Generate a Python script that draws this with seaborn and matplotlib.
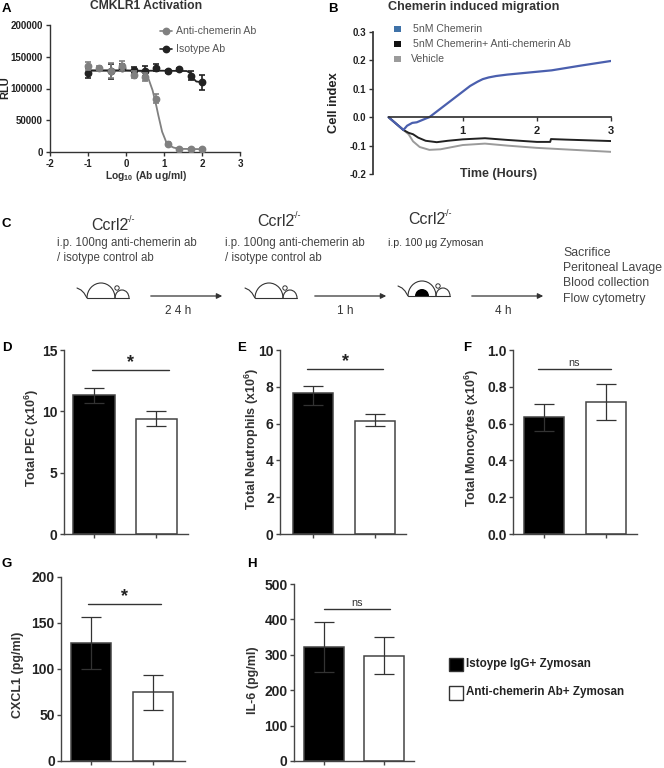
import numpy as np
import pandas as pd
import matplotlib
matplotlib.use('Agg')
import matplotlib.pyplot as plt
from matplotlib.patches import Arc, Circle, Wedge, Rectangle
import seaborn as sns

# panel A
dose_anti = [-1, -0.7, -0.4, -0.1, 0.2, 0.5, 0.8, 1.1, 1.4, 1.7, 2]
rlu_anti = [135000, 132000, 128000, 135000, 122000, 118000, 84000, 13000, 5000, 5000, 4500]
rlu_anti_err = [6000, 3000, 12000, 8000, 6000, 6000, 7000, 2000, 1500, 1500, 1500]
dose_iso = [-1, -0.4, -0.1, 0.2, 0.5, 0.8, 1.1, 1.4, 1.7, 2]
rlu_iso = [124000, 127000, 133000, 129000, 127000, 133000, 127000, 130000, 120000, 110000]
rlu_iso_err = [8000, 12000, 6000, 5000, 8000, 6000, 2000, 2000, 7000, 12000]
fit_anti_x = [-1, 0, 0.4, 0.5, 0.6, 0.7, 0.8, 0.85, 0.95, 1.05, 1.15, 1.25, 1.4, 2]
fit_anti_y = [129000, 129000, 127000, 123000, 114000, 97000, 72000, 58000, 32000, 17000, 10000, 7000, 5000, 4500]
fit_iso_x = [-1, 0, 1, 1.6, 1.7, 1.75, 1.85, 2]
fit_iso_y = [128000, 128000, 128000, 127500, 124000, 117000, 111000, 110000]

# panel B
t_blue = [0, 0.2, 0.25, 0.32, 0.38, 0.5, 0.55, 0.7, 0.9, 1.1, 1.2, 1.27, 1.35, 1.45, 1.6, 2, 2.2, 2.6, 3]
ci_blue = [0, -0.045, -0.03, -0.02, -0.018, -0.005, 0, 0.03, 0.07, 0.11, 0.125, 0.134, 0.14, 0.145, 0.15, 0.16, 0.165, 0.182, 0.198]
t_black = [0, 0.2, 0.27, 0.33, 0.4, 0.5, 0.65, 0.8, 1, 1.3, 1.6, 2, 2.18, 2.19, 2.4, 3]
ci_black = [0, -0.045, -0.055, -0.06, -0.072, -0.083, -0.088, -0.083, -0.078, -0.074, -0.08, -0.087, -0.087, -0.077, -0.079, -0.084]
t_grey = [0, 0.2, 0.27, 0.33, 0.42, 0.55, 0.7, 1, 1.3, 1.6, 2, 2.5, 3]
ci_grey = [0, -0.045, -0.06, -0.085, -0.105, -0.115, -0.113, -0.098, -0.093, -0.1, -0.108, -0.115, -0.122]

# bar panels: means, lower and upper error ends
groups = ['Istoype IgG+ Zymosan', 'Anti-chemerin Ab+ Zymosan']
pec = [11.3, 9.4]
pec_lo = [10.7, 8.8]
pec_hi = [11.9, 10.0]
neut = [7.65, 6.15]
neut_lo = [7.0, 5.85]
neut_hi = [8.02, 6.5]
mono = [0.635, 0.72]
mono_lo = [0.56, 0.62]
mono_hi = [0.705, 0.815]
cxcl = [128, 75]
cxcl_lo = [100, 55]
cxcl_hi = [156, 94]
il6 = [322, 298]
il6_lo = [252, 245]
il6_hi = [392, 350]

W, H = 664, 768
sns.set_theme(style='ticks')
plt.rcParams['font.family'] = ['Liberation Sans', 'DejaVu Sans']
plt.rcParams['mathtext.default'] = 'regular'
plt.rcParams['axes.unicode_minus'] = False

fig = plt.figure(figsize=(W / 100, H / 100), dpi=100)
# overlay in pixel coordinates for annotations, kept above the plot axes
bg = fig.add_axes([0, 0, 1, 1], zorder=10)
bg.set_xlim(0, W)
bg.set_ylim(H, 0)
bg.axis('off')


def px_axes(left, top, right, bottom):
    return fig.add_axes([left / W, 1 - bottom / H, (right - left) / W, (bottom - top) / H])


DARK = '#333333'


def label(x, y, s, **kw):
    kw.setdefault('color', '#222222')
    kw.setdefault('fontsize', 9)
    kw.setdefault('va', 'center')
    bg.text(x, y, s, **kw)


for s, x, y in [('A', 2, 9), ('B', 328, 9), ('C', 2, 224), ('D', 2, 348),
                ('E', 237, 348), ('F', 463, 348), ('G', 1, 564), ('H', 247, 564)]:
    label(x, y, s, fontsize=9.5, fontweight='bold', color='black')

# A
ax = px_axes(50, 25, 240, 152)
sns.lineplot(x=fit_anti_x, y=fit_anti_y, ax=ax, color='#808080', lw=1.3)
sns.lineplot(x=fit_iso_x, y=fit_iso_y, ax=ax, color='#222222', lw=1.3)
ax.errorbar(dose_anti, rlu_anti, yerr=rlu_anti_err, fmt='o', ms=4.6, color='#808080',
            elinewidth=1.2, capsize=2.5, capthick=1.2, zorder=4)
ax.errorbar(dose_iso, rlu_iso, yerr=rlu_iso_err, fmt='o', ms=4.6, color='#222222',
            elinewidth=1.2, capsize=2.5, capthick=1.2, zorder=3)
ax.set_xlim(-2, 3)
ax.set_ylim(0, 200000)
ax.set_yticks([0, 50000, 100000, 150000, 200000])
ax.set_xticks([-2, -1, 0, 1, 2, 3])
ax.tick_params(labelsize=7, length=3, width=1, color=DARK, labelcolor='#222222', pad=2)
for t in ax.get_xticklabels() + ax.get_yticklabels():
    t.set_fontweight('bold')
sns.despine(ax=ax)
for sp in ['left', 'bottom']:
    ax.spines[sp].set_linewidth(1)
    ax.spines[sp].set_color(DARK)
label(146, 6, 'CMKLR1 Activation', fontsize=8.7, fontweight='bold', ha='center', color='#333333')
label(5, 88, 'RLU', fontsize=8, fontweight='bold', rotation=90, ha='center')
label(146, 176, 'Log$_{10}$ (Ab ug/ml)', fontsize=7.4, fontweight='bold', ha='center', color='#333333')
for y, c, s in [(31, '#808080', 'Anti-chemerin Ab'), (48.5, '#222222', 'Isotype Ab')]:
    bg.plot([160, 172], [y, y], color=c, lw=1.2)
    bg.plot([166], [y], 'o', ms=4.6, color=c)
    label(176, y, s, fontsize=7.6, color='#555555')

# B
ax = px_axes(373, 32, 611, 174)
sns.lineplot(x=t_grey, y=ci_grey, ax=ax, color='#9b9b9b', lw=1.4)
sns.lineplot(x=t_black, y=ci_black, ax=ax, color='#222222', lw=1.4)
sns.lineplot(x=t_blue, y=ci_blue, ax=ax, color='#4a5fae', lw=1.6)
ax.set_xlim(-0.21, 3)
ax.set_ylim(-0.2, 0.3)
ax.set_yticks([-0.2, -0.1, 0, 0.1, 0.2, 0.3])
ax.set_yticklabels(['-0.2', '-0.1', '0.0', '0.1', '0.2', '0.3'])
ax.set_xticks([1, 2, 3])
ax.spines['bottom'].set_position(('data', 0))
ax.spines['bottom'].set_bounds(0, 3)
ax.spines['bottom'].set_color(DARK)
ax.spines['left'].set_color(DARK)
sns.despine(ax=ax)
ax.tick_params(labelsize=7, length=3, width=1, color=DARK, labelcolor='#222222', pad=2)
ax.tick_params(axis='x', labelsize=8, pad=3)
for t in ax.get_xticklabels() + ax.get_yticklabels():
    t.set_fontweight('bold')
label(388, 7, 'Chemerin induced migration', fontsize=9.1, fontweight='bold', color='#333333')
label(334, 103, 'Cell index', fontsize=9.3, fontweight='bold', rotation=90, ha='center')
label(499, 174, 'Time (Hours)', fontsize=9, fontweight='bold', ha='center', color='#333333')
for y, c, tx, s in [(29, '#3f72a8', 413, '5nM Chemerin'),
                    (44, '#111111', 413, '5nM Chemerin+ Anti-chemerin Ab'),
                    (59, '#9b9b9b', 411, 'Vehicle')]:
    bg.add_patch(Rectangle((394, y - 3), 7, 6, color=c, lw=0))
    label(tx, y, s, fontsize=7.6, color='#555555')

# C
for x, y in [(91, 225), (257, 222), (408, 220)]:
    label(x, y, 'Ccrl2', fontsize=11.5, color='#333333')
    label(x + 36, y - 6, '-/-', fontsize=6.5, color='#333333')
for x in [57, 225]:
    label(x, 243, 'i.p. 100ng anti-chemerin ab', fontsize=8.3, color='#444444')
    label(x, 258, '/ isotype control ab', fontsize=8.3, color='#444444')
label(388, 243, 'i.p. 100 µg Zymosan', fontsize=7.6, color='#333333')
for i, s in enumerate(['Sacrifice', 'Peritoneal Lavage', 'Blood collection', 'Flow cytometry']):
    label(563, 253 + i * 15.2, s, fontsize=8.8, color='#444444')
for x0, x1, s, tx in [(148, 225, '2 4 h', 178), (312, 389, '1 h', 345), (469, 546, '4 h', 503)]:
    bg.annotate('', xy=(x1, 296), xytext=(x0, 296),
                arrowprops=dict(arrowstyle='-|>', color='#333333', lw=0.9, mutation_scale=8))
    label(tx, 311, s, fontsize=8.5, color='#333333', ha='center')


def mouse(x, y=298, filled=False):
    # back arch, head, ear, tail and base line of the little mouse
    bg.add_patch(Arc((x + 24, y), 28, 30, theta1=180, theta2=360, color='#333333', lw=0.8))
    bg.plot([x, x + 4, x + 7, x + 10], [y - 10, y - 8, y - 5, y], color='#333333', lw=0.8)
    bg.plot([x + 10, x + 52], [y, y], color='#333333', lw=0.8)
    bg.add_patch(Arc((x + 45, y), 14, 16, theta1=180, theta2=360, color='#333333', lw=0.8))
    bg.add_patch(Circle((x + 40, y - 10), 2.2, fc='white', ec='#333333', lw=0.7))
    if filled:
        bg.add_patch(Wedge((x + 24, y), 7, 180, 360, color='black', lw=0))


mouse(77)
mouse(245)
mouse(398, y=296, filled=True)


# bar panels
def bars(box, means, lo, hi, ylim, yticks, fmt, ylab, ylab_x, ylab_y, sig, sig_y, sig_x):
    left, top, right, bottom, c0, step = box
    ax = px_axes(left, top, right, bottom)
    df = pd.DataFrame({'group': groups, 'value': means})
    sns.barplot(data=df, x='group', y='value', hue='group', order=groups, hue_order=groups,
                palette=['black', 'white'], width=0.66, edgecolor='#444444', linewidth=1.1,
                legend=False, ax=ax, zorder=1)
    ax.set_xlim((left - c0) / step, (right - c0) / step)
    ax.set_ylim(*ylim)
    err = [[m - l for m, l in zip(means, lo)], [h - m for m, h in zip(means, hi)]]
    ax.errorbar([0, 1], means, yerr=err, fmt='none', ecolor='#333333', elinewidth=0.9,
                capsize=7.5, capthick=0.9, zorder=5)
    ax.set_yticks(yticks)
    ax.set_yticklabels([fmt.format(v) for v in yticks])
    ax.set_xticks([0, 1])
    ax.set_xticklabels([])
    ax.set_xlabel('')
    ax.set_ylabel('')
    sns.despine(ax=ax)
    for sp in ['left', 'bottom']:
        ax.spines[sp].set_color('#444444')
        ax.spines[sp].set_linewidth(1)
    ax.tick_params(axis='y', labelsize=10, length=3, width=1, color='#444444', labelcolor='#222222', pad=1.5)
    ax.tick_params(axis='x', length=3, width=1, color='#444444')
    for t in ax.get_yticklabels():
        t.set_fontweight('bold')
    label(ylab_x, ylab_y, ylab, fontsize=9, fontweight='bold', rotation=90, ha='center', color='#333333')
    bg.plot(sig_x, [sig_y, sig_y], color='#333333', lw=1)
    cx = sum(sig_x) / 2
    if sig == '*':
        label(cx, sig_y - 7, '*', fontsize=13, fontweight='bold', ha='center', color='#222222')
    else:
        label(cx, sig_y - 6.5, sig, fontsize=7.8, ha='center', color='#333333')


bars((64, 350, 188, 534, 94, 62.5), pec, pec_lo, pec_hi, (0, 15), [0, 5, 10, 15], '{:d}',
     'Total PEC (x10$^6$)', 32, 438, '*', 370, (92, 169))
bars((280, 350, 406, 534, 313, 62), neut, neut_lo, neut_hi, (0, 10), [0, 2, 4, 6, 8, 10], '{:d}',
     'Total Neutrophils (x10$^6$)', 252, 439, '*', 369, (307, 383))
bars((513, 350, 637, 534, 544, 62), mono, mono_lo, mono_hi, (0, 1), [0, 0.2, 0.4, 0.6, 0.8, 1.0], '{:.1f}',
     'Total Monocytes (x10$^6$)', 472, 438, 'ns', 369, (538, 611))
bars((61, 577, 185, 761, 91, 62), cxcl, cxcl_lo, cxcl_hi, (0, 200), [0, 50, 100, 150, 200], '{:d}',
     'CXCL1 (pg/ml)', 18, 675, '*', 604, (88, 161))
bars((294, 584, 414, 761, 324, 60), il6, il6_lo, il6_hi, (0, 500), [0, 100, 200, 300, 400, 500], '{:d}',
     'IL-6 (pg/ml)', 253, 680, 'ns', 609, (324, 390))

# shared legend
for y, c, s in [(664, 'black', groups[0]), (692.5, 'white', groups[1])]:
    bg.add_patch(Rectangle((449, y - 6.5), 13.5, 13.5, fc=c, ec='#333333', lw=1))
    label(466, y, s, fontsize=8.4, fontweight='bold', color='#222222')

fig.savefig('out.png', dpi=100)
